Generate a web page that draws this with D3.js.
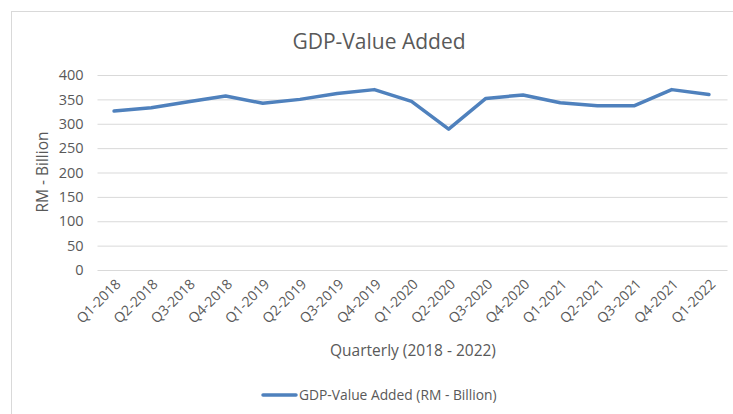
<!DOCTYPE html>
<html>
<head>
<meta charset="utf-8">
<script src="https://cdn.jsdelivr.net/npm/d3@7"></script>
<style>
  html, body { margin: 0; padding: 0; background: #fff; }
  svg { display: block; font-family: "Open Sans", "Noto Sans", sans-serif; }
</style>
</head>
<body>
<svg id="chart" width="733" height="414"></svg>
<script>
// Quarterly GDP value added, RM billion
const quarters = ["Q1-2018","Q2-2018","Q3-2018","Q4-2018","Q1-2019","Q2-2019","Q3-2019","Q4-2019",
                  "Q1-2020","Q2-2020","Q3-2020","Q4-2020","Q1-2021","Q2-2021","Q3-2021","Q4-2021","Q1-2022"];
const gdpValues = [326, 333, 345, 357, 342, 350, 362, 370, 346, 289, 352, 359, 343, 337, 337, 370, 360];
const yTicks = [0, 50, 100, 150, 200, 250, 300, 350, 400];

const seriesName = "GDP-Value Added (RM - Billion)";
const chartTitle = "GDP-Value Added";
const xTitle = "Quarterly (2018 - 2022)";
const yTitle = "RM - Billion";

const svg = d3.select("#chart");
const textColor = "#595959";
const lineColor = "#4F81BD";
const gridColor = "#D9D9D9";

const plot = { left: 95.5, right: 727.5, top: 75, bottom: 270 };

// chart frame
svg.append("rect")
  .attr("x", 11.5).attr("y", 11.5)
  .attr("width", 740).attr("height", 420)
  .attr("fill", "none").attr("stroke", gridColor).attr("stroke-width", 1);

const x = d3.scalePoint().domain(quarters).range([plot.left, plot.right]).padding(0.5);
const y = d3.scaleLinear().domain([0, 400]).range([plot.bottom, plot.top]);

// horizontal gridlines + y tick labels
const yAxis = d3.axisLeft(y).tickValues(yTicks).tickSize(-(plot.right - plot.left)).tickPadding(12);
const gy = svg.append("g").attr("transform", `translate(${plot.left},0)`).call(yAxis);
gy.select(".domain").remove();
gy.selectAll(".tick line").attr("stroke", gridColor).attr("stroke-width", 1).attr("x1", 2);
gy.selectAll(".tick text").attr("fill", textColor).style("font-size", "14.5px")
  .style("font-family", "'Open Sans', sans-serif");

// category labels along the bottom
const xAxis = d3.axisBottom(x).tickSize(0).tickPadding(0);
const gx = svg.append("g").attr("transform", `translate(0,${plot.bottom})`).call(xAxis);
gx.select(".domain").remove();
gx.selectAll(".tick text")
  .attr("fill", textColor)
  .style("font-size", "14px")
  .style("font-family", "'Open Sans', sans-serif")
  .attr("text-anchor", "end")
  .attr("dy", 0)
  .attr("transform", "translate(7,15) rotate(-45)");

// series line
const line = d3.line().x((d, i) => x(quarters[i])).y(d => y(d));
svg.append("path")
  .datum(gdpValues)
  .attr("d", line)
  .attr("fill", "none")
  .attr("stroke", lineColor)
  .attr("stroke-width", 3.5)
  .attr("stroke-linejoin", "round")
  .attr("stroke-linecap", "round");

// titles
svg.append("text")
  .attr("x", 379).attr("y", 49)
  .attr("text-anchor", "middle")
  .attr("fill", textColor)
  .style("font-size", "21px")
  .text(chartTitle);

svg.append("text")
  .attr("x", 413).attr("y", 356)
  .attr("text-anchor", "middle")
  .attr("fill", textColor)
  .style("font-size", "15.5px")
  .text(xTitle);

svg.append("text")
  .attr("transform", "translate(48,172) rotate(-90)")
  .attr("text-anchor", "middle")
  .attr("fill", textColor)
  .style("font-size", "15.5px")
  .text(yTitle);

// legend
const legend = svg.append("g");
legend.append("line")
  .attr("x1", 263).attr("x2", 296)
  .attr("y1", 395).attr("y2", 395)
  .attr("stroke", lineColor).attr("stroke-width", 3.5)
  .attr("stroke-linecap", "round");
legend.append("text")
  .attr("x", 299).attr("y", 400)
  .attr("fill", textColor)
  .style("font-size", "13.8px")
  .text(seriesName);
</script>
</body>
</html>
